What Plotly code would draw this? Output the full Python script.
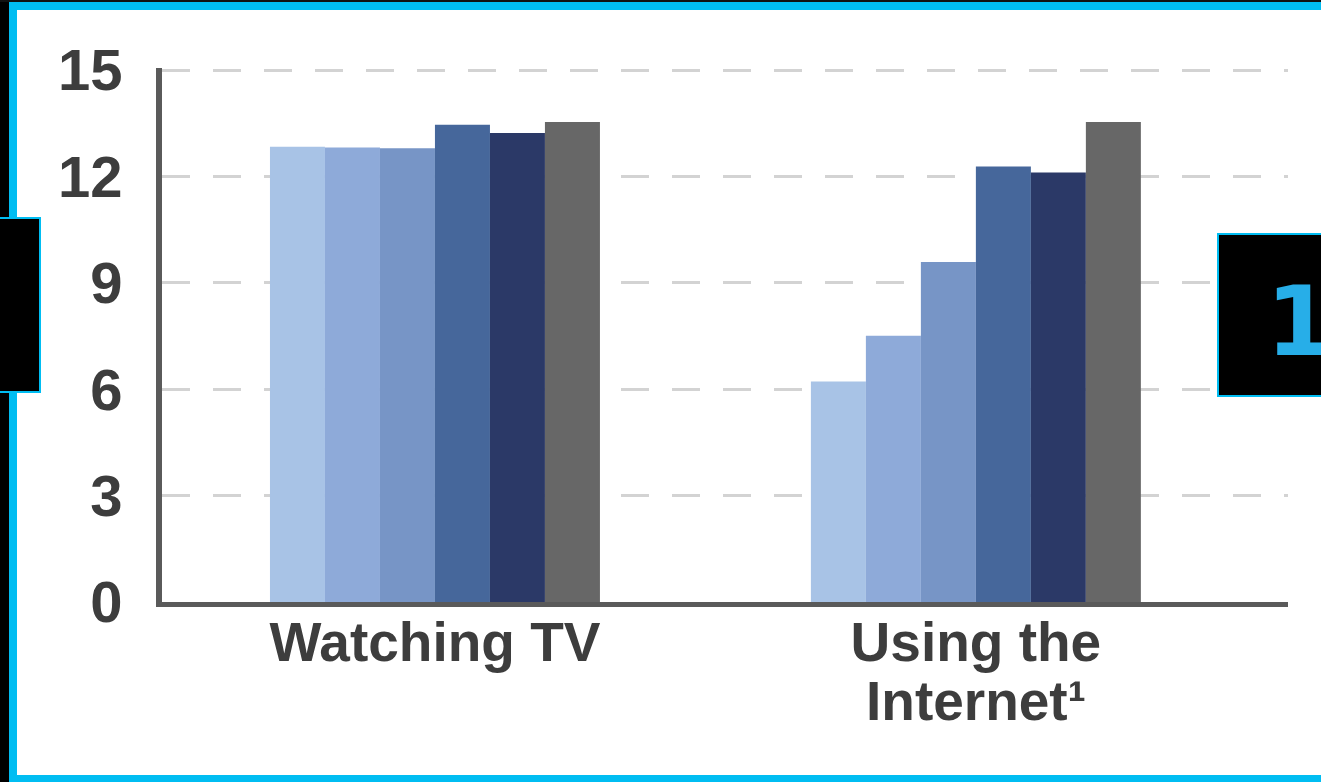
import plotly.graph_objects as go

# ---- data ----
categories = ["Watching TV", "Using the"]
category_extra_line = ["", "Internet¹"]
series_names = ["S1", "S2", "S3", "S4", "S5", "S6"]
series_values = [
    [12.84, 6.22],
    [12.82, 7.51],
    [12.80, 9.59],
    [13.46, 12.28],
    [13.23, 12.11],
    [13.54, 13.54],
]
series_colors = ["#a8c3e6", "#8eaad9", "#7795c6", "#46679b", "#2b3967", "#676767"]
y_ticks = [0, 3, 6, 9, 12, 15]

W, H = 1321, 782
L, R, T, B = 162, 33, 68, 180
PW, PH = W - L - R, H - T - B

def px(x):
    return (x - L) / PW

def py(y):
    return (H - B - y) / PH

fig = go.Figure()
xs = list(range(len(categories)))
for name, vals, col in zip(series_names, series_values, series_colors):
    fig.add_trace(go.Bar(x=xs, y=vals, name=name, marker=dict(color=col, line=dict(width=0))))

fig.update_layout(
    width=W, height=H,
    margin=dict(l=L, r=R, t=T, b=B),
    barmode="group", bargap=0.39, bargroupgap=0,
    plot_bgcolor="white", paper_bgcolor="white",
    showlegend=False, hovermode=False,
    font=dict(family="Liberation Sans, Arial, sans-serif", color="#3a3a3a"),
)
fig.update_xaxes(
    range=[-0.5046, 1.577],
    tickmode="array", tickvals=xs, ticktext=categories,
    tickfont=dict(size=55, weight="bold", color="#3d3d3d"),
    showgrid=False, zeroline=False,
    showline=True, linecolor="#5a5a5a", linewidth=5,
    ticks="", ticklabelstandoff=-12,
)
fig.update_yaxes(
    range=[0, 15.06], tickmode="array", tickvals=y_ticks,
    tickfont=dict(size=58, weight="bold", color="#3d3d3d"),
    showgrid=True, gridcolor="#d3d3d3", gridwidth=3, griddash="28px,23px",
    zeroline=False, showline=True, linecolor="#5a5a5a", linewidth=6,
    ticks="", ticklabelstandoff=22,
)

# second line of the category label
for xi, extra in zip(xs, category_extra_line):
    if extra:
        fig.add_annotation(xref="x", yref="paper", x=xi, y=py(668), xanchor="center", yanchor="top",
                           text=extra, showarrow=False,
                           font=dict(size=55, weight="bold", color="#3d3d3d"))

shapes = []
# left black strip and cyan frame
shapes.append(dict(type="rect", xref="paper", yref="paper", x0=px(-5), x1=px(9), y0=py(-5), y1=py(790),
                   fillcolor="black", line=dict(width=0), layer="above"))
shapes.append(dict(type="rect", xref="paper", yref="paper", x0=px(13), x1=px(1340), y0=py(6), y1=py(779),
                   fillcolor="rgba(0,0,0,0)", line=dict(color="#00bdf2", width=8), layer="above"))
shapes.append(dict(type="rect", xref="paper", yref="paper", x0=px(-5), x1=px(1330), y0=py(-5), y1=py(2),
                   fillcolor="#111111", line=dict(width=0), layer="above"))
# black boxes
shapes.append(dict(type="rect", xref="paper", yref="paper", x0=px(-5), x1=px(40), y0=py(218), y1=py(392),
                   fillcolor="black", line=dict(color="#00bdf2", width=2), layer="above"))
shapes.append(dict(type="rect", xref="paper", yref="paper", x0=px(1218), x1=px(1340), y0=py(234), y1=py(396),
                   fillcolor="black", line=dict(color="#00bdf2", width=2), layer="above"))
fig.update_layout(shapes=shapes)

fig.add_annotation(xref="paper", yref="paper", x=px(1264), y=py(322), xanchor="left", yanchor="middle",
                   text="1", showarrow=False,
                   font=dict(size=96, color="#27aee8", family="DejaVu Sans", weight="bold"))

fig.write_html("out.html")
